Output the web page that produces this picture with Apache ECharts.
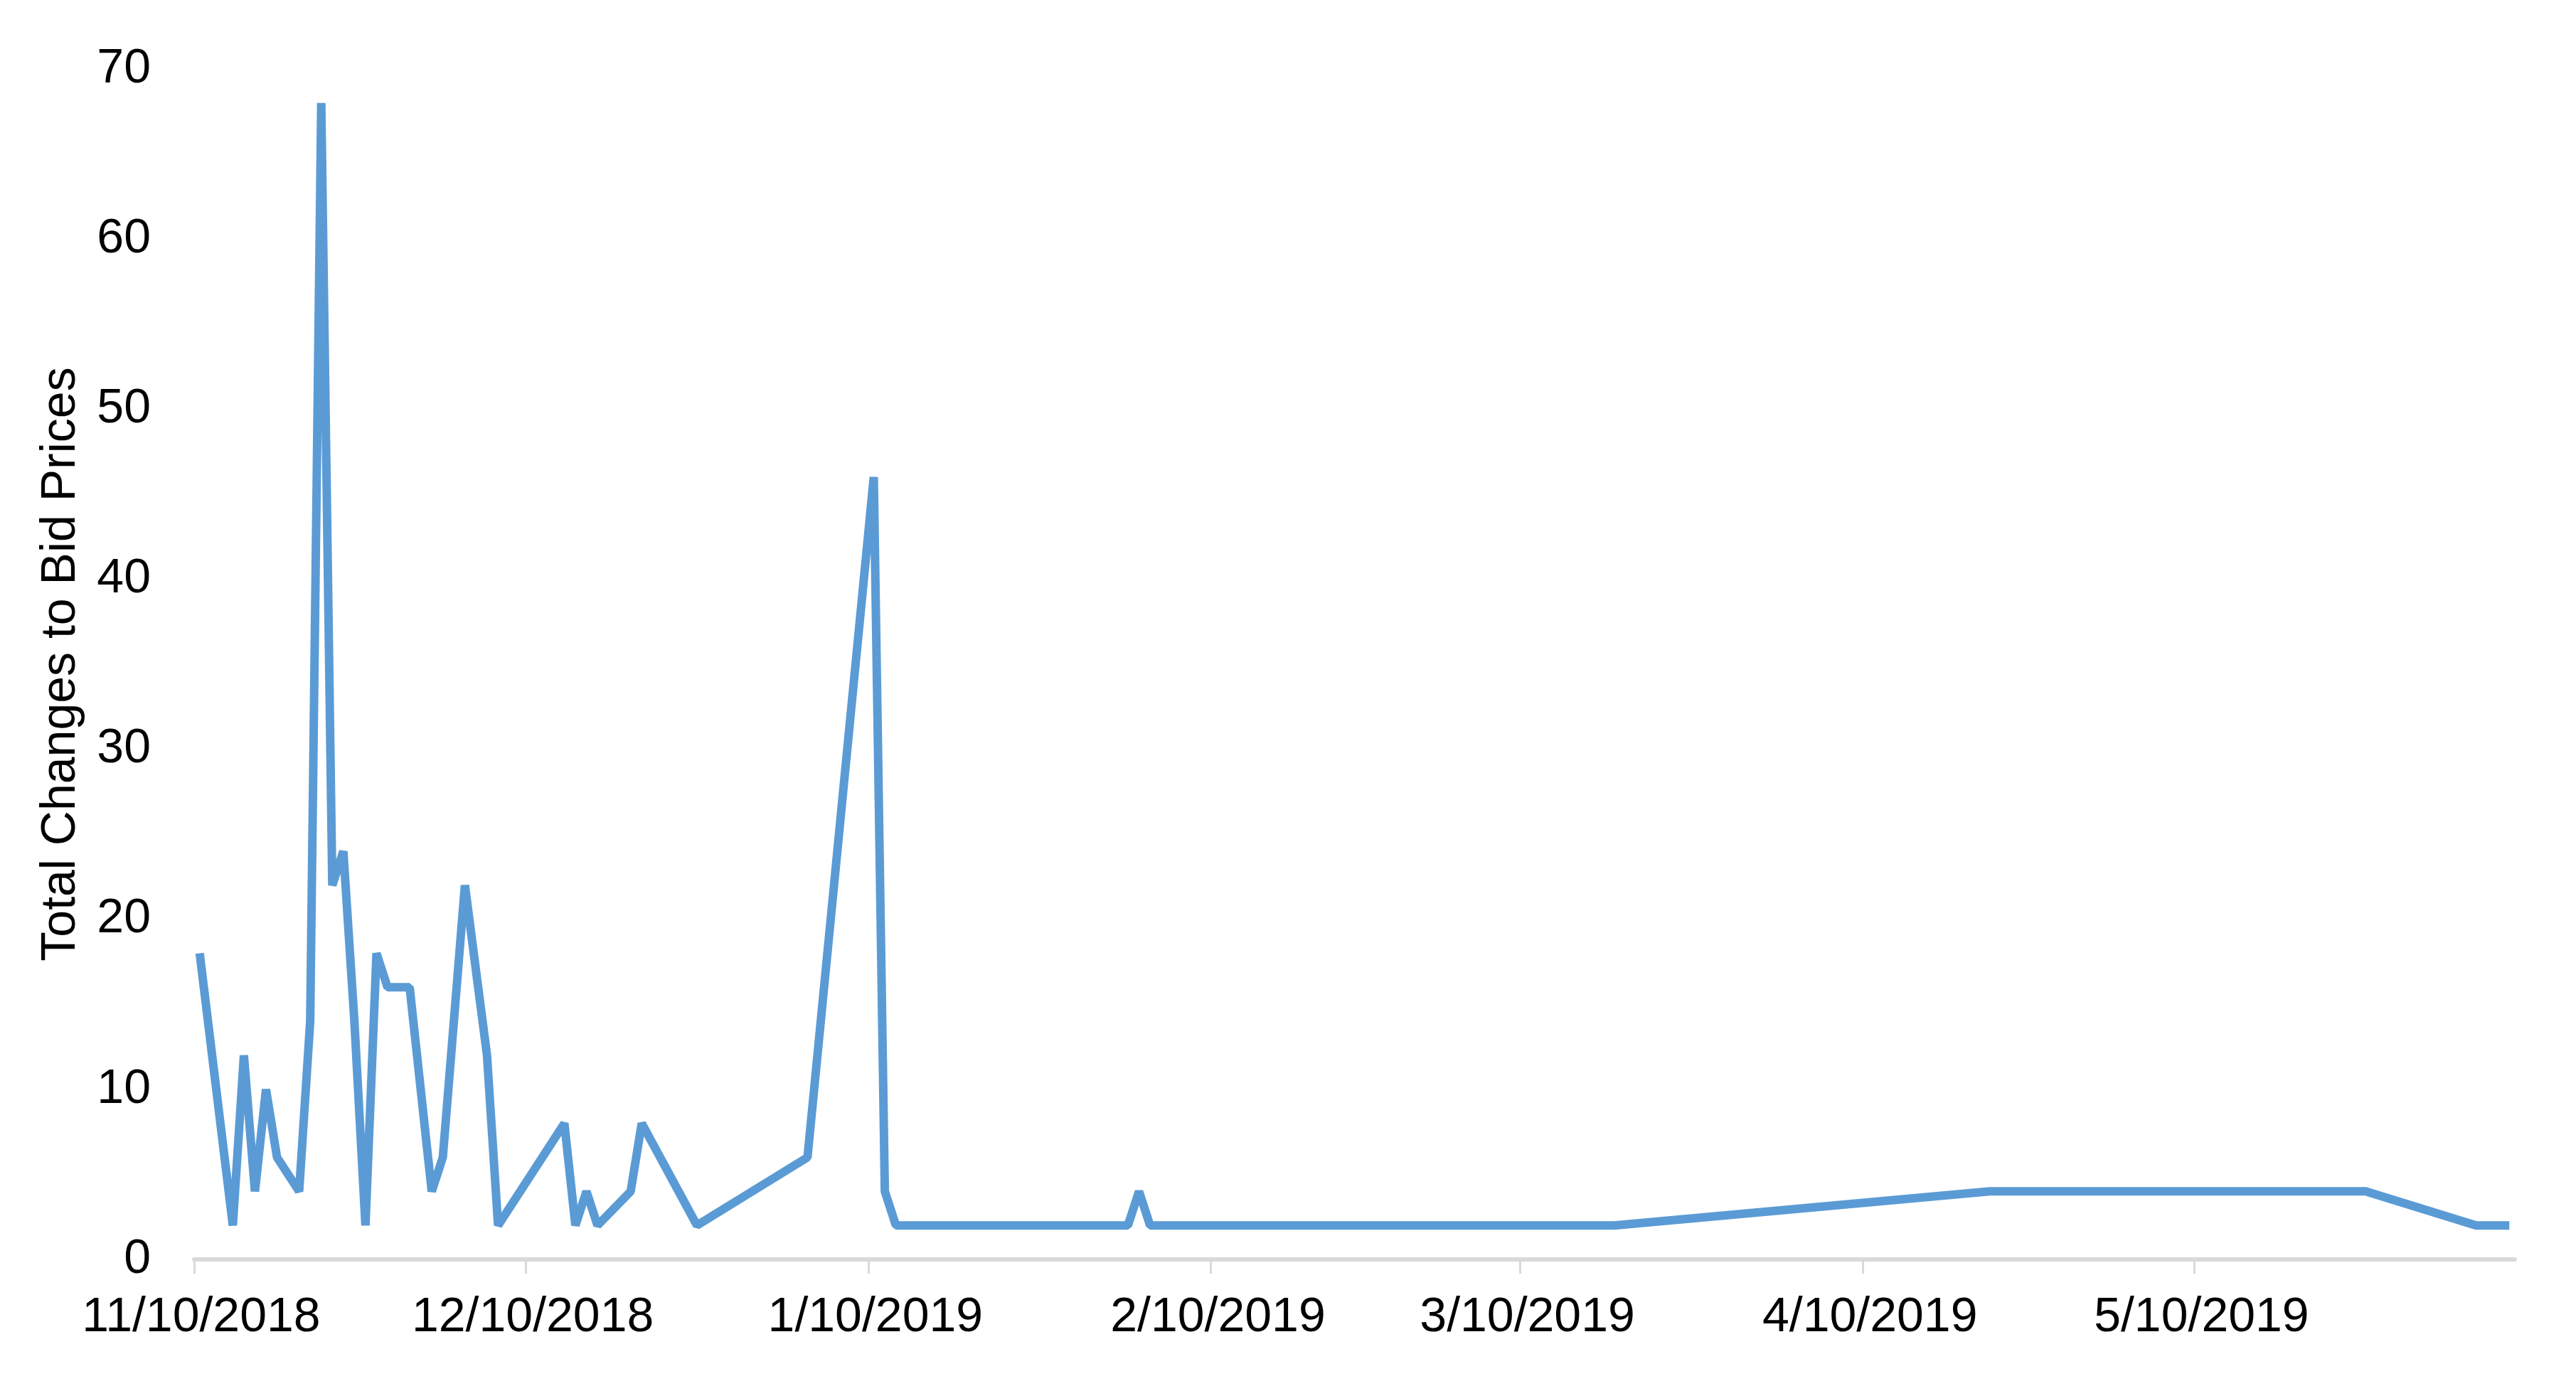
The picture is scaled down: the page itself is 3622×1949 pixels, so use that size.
<!DOCTYPE html>
<html>
<head>
<meta charset="utf-8">
<script src="https://cdn.jsdelivr.net/npm/echarts@6/dist/echarts.min.js"></script>
<style>
  html, body { margin: 0; padding: 0; background: #fff; }
  #chart { width: 3622px; height: 1949px; }
</style>
</head>
<body>
<div id="chart"></div>
<script>
// data
var dates = ['2018-11-10', '2018-11-13', '2018-11-14', '2018-11-15', '2018-11-16', '2018-11-17',
  '2018-11-19', '2018-11-20', '2018-11-21', '2018-11-22', '2018-11-23', '2018-11-24',
  '2018-11-25', '2018-11-26', '2018-11-27', '2018-11-29', '2018-12-01', '2018-12-02',
  '2018-12-04', '2018-12-06', '2018-12-07', '2018-12-13', '2018-12-14', '2018-12-15',
  '2018-12-16', '2018-12-19', '2018-12-20', '2018-12-25', '2019-01-04', '2019-01-10',
  '2019-01-11', '2019-01-12', '2019-02-02', '2019-02-03', '2019-02-04', '2019-03-18',
  '2019-04-21', '2019-05-25', '2019-06-04', '2019-06-07'];
var bidChanges = [18, 2, 12, 4, 10, 6, 4, 14, 68, 22, 24, 14, 2, 18, 16, 16, 4, 6, 22, 12,
  2, 8, 2, 4, 2, 4, 8, 2, 6, 46, 4, 2, 2, 4, 2, 2, 4, 4, 2, 2];
var tickDates = ['2018-11-10', '2018-12-10', '2019-01-10', '2019-02-10', '2019-03-10', '2019-04-10', '2019-05-10'];
var tickLabels = ['11/10/2018', '12/10/2018', '1/10/2019', '2/10/2019', '3/10/2019', '4/10/2019', '5/10/2019'];
var axisStart = '2018-11-10';
var axisEnd = '2019-06-08';

function toTime(s, hour) {
  var p = s.split('-');
  return new Date(+p[0], +p[1] - 1, +p[2], hour || 0).getTime();
}

// Excel date axis puts each day's point in the middle of its day slot
var seriesData = dates.map(function(d, i) { return [toTime(d, 12), bidChanges[i]]; });
var tickTimes = tickDates.map(function(d) { return toTime(d); });

var font = '"Liberation Sans", Arial, Helvetica, sans-serif';
var chart = echarts.init(document.getElementById('chart'));

chart.setOption({
  animation: false,
  backgroundColor: '#fff',
  grid: { left: 273, right: 86, top: 97, bottom: 178 },
  xAxis: {
    type: 'value',
    min: toTime(axisStart),
    max: toTime(axisEnd),
    scale: true,
    splitLine: { show: false },
    axisLine: { show: true, lineStyle: { color: '#d9d9d9', width: 6 } },
    axisTick: {
      show: true,
      customValues: tickTimes,
      length: 20,
      lineStyle: { color: '#d9d9d9', width: 3 }
    },
    axisLabel: {
      customValues: tickTimes,
      color: '#000',
      fontFamily: font,
      fontSize: 68,
      margin: 48,
      padding: [0, 0, 0, 20],
      formatter: function(v) {
        var i = tickTimes.indexOf(v);
        return i >= 0 ? tickLabels[i] : '';
      }
    }
  },
  yAxis: {
    type: 'value',
    min: 0,
    max: 70,
    interval: 10,
    name: 'Total Changes to Bid Prices',
    nameLocation: 'middle',
    nameGap: 153,
    nameTextStyle: { color: '#000', fontFamily: font, fontSize: 68 },
    axisLine: { show: false },
    axisTick: { show: false },
    splitLine: { show: false },
    axisLabel: { color: '#000', fontFamily: font, fontSize: 68, margin: 61 }
  },
  series: [{
    type: 'line',
    data: seriesData,
    showSymbol: false,
    lineStyle: { color: '#5b9bd5', width: 12 },
    itemStyle: { color: '#5b9bd5' }
  }]
});
</script>
</body>
</html>
